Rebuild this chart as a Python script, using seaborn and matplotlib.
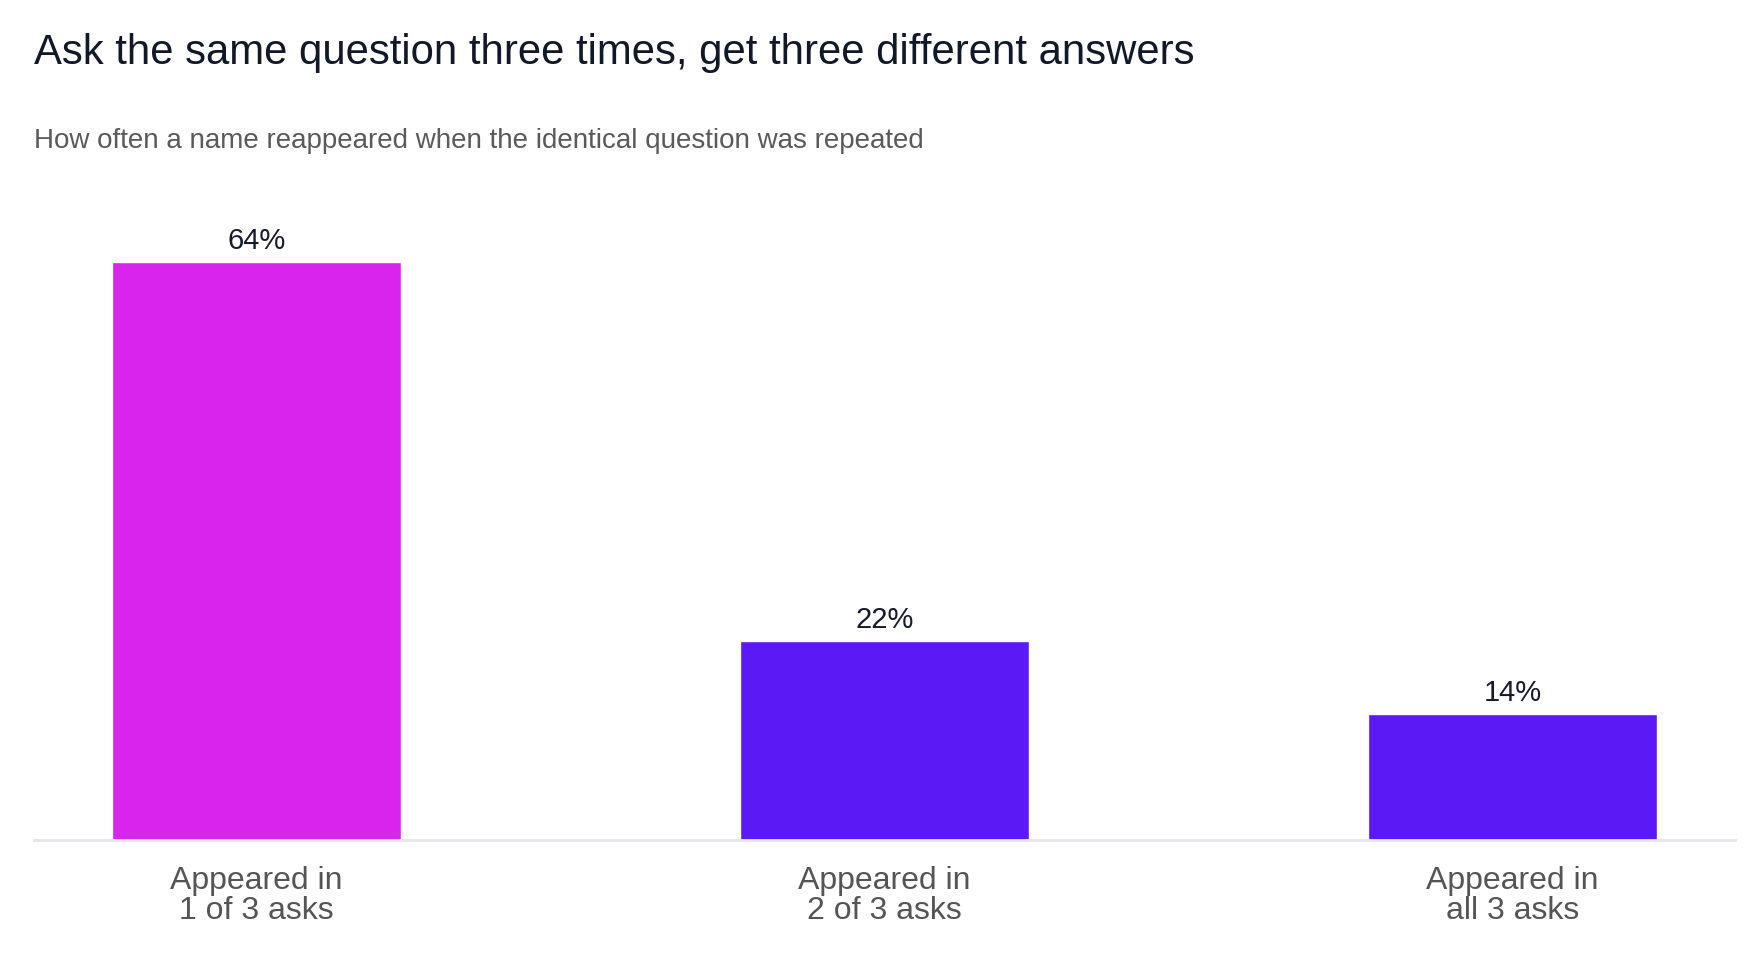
import matplotlib
matplotlib.use("Agg")
import matplotlib.pyplot as plt
import seaborn as sns
import pandas as pd


CATEGORIES = ["Appeared in\n1 of 3 asks", "Appeared in\n2 of 3 asks", "Appeared in\nall 3 asks"]
SHARES = [64, 22, 14]
BAR_COLORS = ["#D824EC", "#5B1AF5", "#5B1AF5"]

TITLE = "Ask the same question three times, get three different answers"
SUBTITLE = "How often a name reappeared when the identical question was repeated"


def main():
    sns.set_style("white")
    plt.rcParams["font.family"] = ["Liberation Sans", "DejaVu Sans"]

    df = pd.DataFrame({"category": CATEGORIES, "share": SHARES})

    fig = plt.figure(figsize=(17.6, 9.6), dpi=100)
    ax = fig.add_axes([34 / 1760, 1 - 840 / 960, (1735 - 34) / 1760, (840 - 200) / 960])

    sns.barplot(
        data=df,
        x="category",
        y="share",
        hue="category",
        palette=BAR_COLORS,
        legend=False,
        width=0.46,
        saturation=1,
        ax=ax,
    )

    for container in ax.containers:
        ax.bar_label(
            container,
            labels=[f"{v:.0f}%" for v in container.datavalues],
            padding=5,
            fontsize=21,
            color="#151b2c",
        )

    ax.set_xlim(-0.354, 2.354)
    ax.set_ylim(0, 70.9)
    ax.set_xlabel("")
    ax.set_ylabel("")
    ax.set_yticks([])

    for side in ["top", "left", "right"]:
        ax.spines[side].set_visible(False)
    ax.spines["bottom"].set_color("#e5e5ea")
    ax.spines["bottom"].set_linewidth(2)

    ax.tick_params(axis="x", length=0, pad=19, labelsize=23, labelcolor="#555555")
    for lbl in ax.get_xticklabels():
        lbl.set_linespacing(1.0)

    fig.text(34 / 1760, 1 - 64 / 960, TITLE, fontsize=30.2, color="#111827", va="baseline", ha="left")
    fig.text(34 / 1760, 1 - 148 / 960, SUBTITLE, fontsize=20, color="#5a5a5a", va="baseline", ha="left")

    fig.savefig("out.png", dpi=100)
    plt.close(fig)


if __name__ == "__main__":
    main()
